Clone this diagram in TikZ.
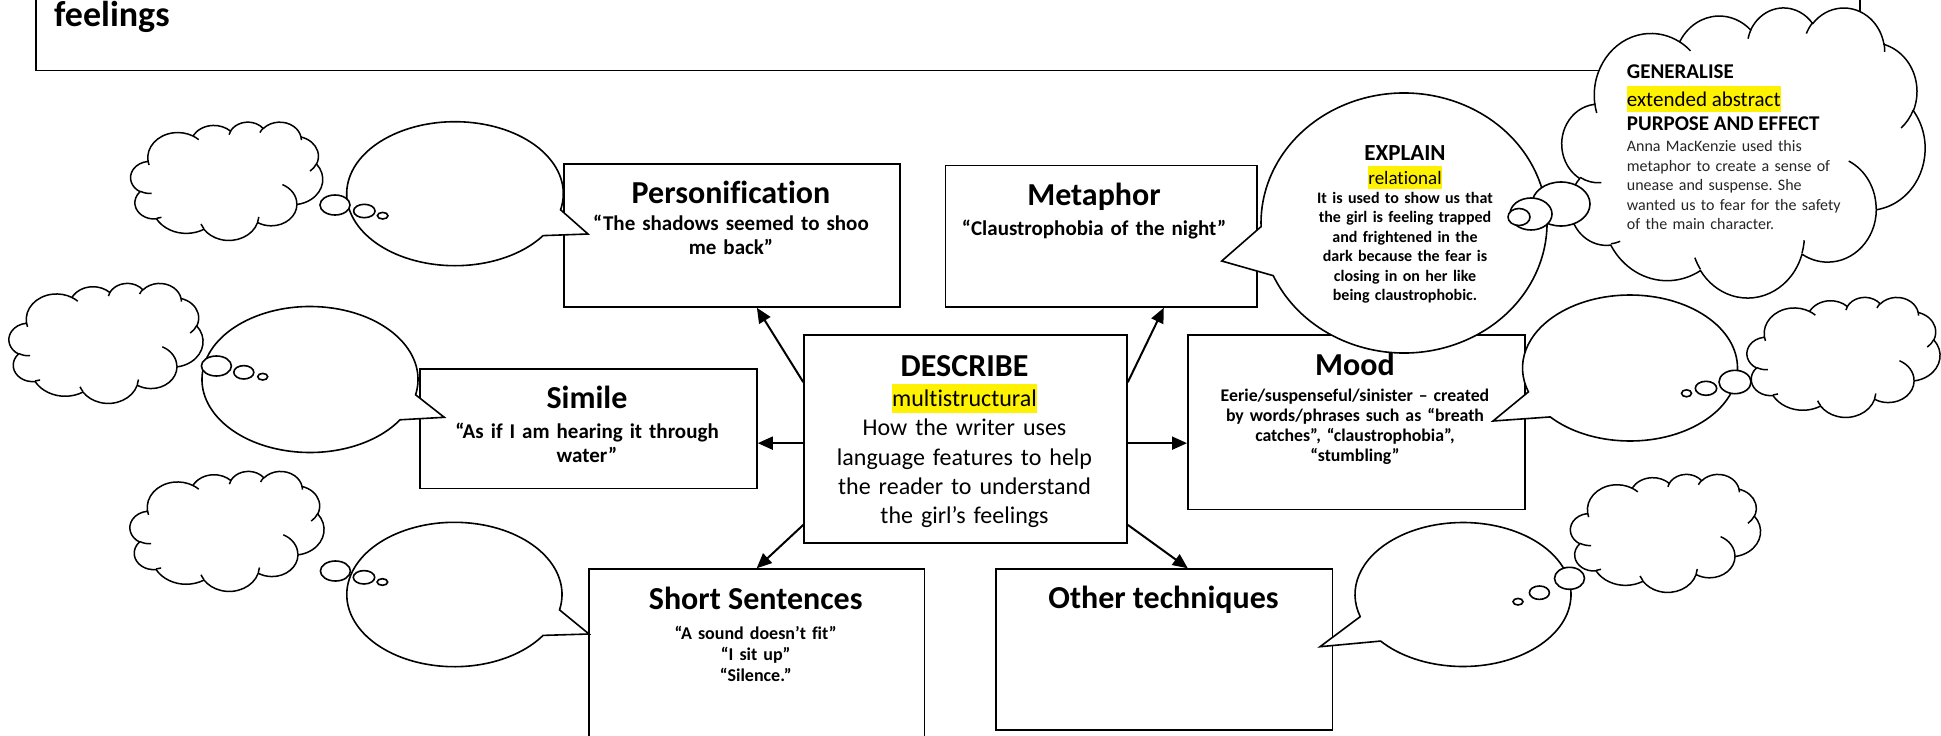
\documentclass[tikz,border=0pt]{standalone}
\usepackage{fontspec}
\setmainfont{Carlito}[Ligatures={NoCommon}]
\usetikzlibrary{arrows.meta,calc}
\frenchspacing
\newcommand\hlbox[1]{{\setlength{\fboxsep}{0pt}\colorbox{yellow}{\rule[-0.27em]{0pt}{1.22em}#1}}}
% arc in the manner of an OOXML arcTo: wR, hR (path units/100), start and sweep (visual degrees, y down)
\newcommand\oa[4]{\pgfextra{%
  \pgfmathsetmacro\tha{#3}\pgfmathsetmacro\thb{#3+#4}%
  \pgfmathsetmacro\ta{atan2((#1)*sin(\tha),(#2)*cos(\tha))}%
  \pgfmathsetmacro\tb{atan2((#1)*sin(\thb),(#2)*cos(\thb))}%
  \pgfmathsetmacro\dtt{mod(\tb-\ta+720,360)}%
  \pgfmathsetmacro\sta{-(\ta)}\pgfmathsetmacro\dta{-(\dtt)}%
  \pgfmathsetmacro\rxx{(#1)*\csx}\pgfmathsetmacro\ryy{(#2)*\csy}}%
 arc[start angle=\sta, delta angle=\dta, x radius=\rxx pt, y radius=\ryy pt]}
\newcommand\cp[2]{({\cL+(#1)*\csx},{\cT-(#2)*\csy})}
% Word-like cloud: centre x, centre y, width, height
\newcommand\wcloud[4]{%
 \pgfmathsetmacro\csx{#3/432}\pgfmathsetmacro\csy{#4/432}%
 \pgfmathsetmacro\cL{#1-#3/2}\pgfmathsetmacro\cT{#2+#4/2}%
 \draw[cloudst] \cp{39}{143.7}
  \oa{67.53}{91.90}{-190.4875}{123.7805}
  \oa{53.33}{72.67}{-144.1024}{89.9452}
  \oa{43.65}{59.45}{-145.8079}{99.7230}
  \oa{48.57}{65.95}{-130.9861}{117.2417}
  \oa{53.33}{72.73}{-78.7089}{109.0269}
  \oa{67.75}{92.20}{-46.2673}{130.2690}
  \oa{57.85}{78.67}{0.6250}{114.0333}
  \oa{67.52}{92.15}{22.4516}{115.1726}
  \oa{77.20}{105.43}{66.2426}{75.7110}
  \oa{43.60}{59.18}{-274.9421}{146.7356}
  \oa{43.45}{59.45}{-246.8285}{152.5189} -- cycle;
 \draw[creasest] \cp{46.93}{261.77} \oa{43.45}{59.45}{86.7420}{26.4295}
  \cp{69.28}{348.99} \oa{43.60}{59.18}{73.6105}{11.4475}
  \cp{164.78}{390.90} \oa{67.52}{92.15}{137.6242}{14.0811}
  \cp{288.27}{347.51} \oa{67.52}{92.15}{6.4533}{15.9984}
  \cp{341.29}{229.54} \oa{57.85}{78.67}{-70.2924}{70.9174}
  \cp{417.98}{153.54} \oa{53.33}{72.73}{30.3180}{27.7515}
  \cp{383.24}{54.26} \oa{48.57}{65.95}{-13.7443}{14.8589}
  \cp{290.78}{39.52} \oa{48.57}{65.95}{-149.1815}{18.1954}
  \cp{221.41}{47.20} \oa{43.65}{59.45}{-163.4943}{17.6864}
  \cp{140.00}{51.92} \oa{67.53}{91.90}{-66.7070}{12.3194}
  \cp{41.27}{157.89} \oa{67.53}{91.90}{157.6544}{11.8582};
}
\begin{document}
\begin{tikzpicture}[x=1pt,y=1pt,
 boxst/.style={draw, line width=1.8pt, fill=white, inner sep=0pt, anchor=north west},
 ttl/.style={font=\bfseries\fontsize{32}{38}\selectfont, anchor=base, inner sep=0pt},
 sub/.style={font=\bfseries\fontsize{21}{24.5}\selectfont, anchor=base, inner sep=0pt, align=center, text width=330pt},
 moodsub/.style={font=\bfseries\fontsize{17.8}{20}\selectfont, anchor=base, inner sep=0pt, align=center, text width=330pt},
 shortsub/.style={font=\bfseries\fontsize{18}{21}\selectfont, anchor=base, inner sep=0pt, align=center, text width=330pt},
 bub/.style={draw, line width=1.6pt, fill=white},
 cloudst/.style={draw, line width=1.5pt, fill=white, line join=round},
 creasest/.style={draw, line width=1.5pt},
 arr/.style={line width=2pt, -{Triangle[length=15pt,width=13pt]}},
]
\useasboundingbox (0,0) rectangle (1941,-736);
\clip (0,0) rectangle (1941,-736);
\fill[white] (0,0) rectangle (1941,-736);

% title box
\node[boxst, minimum width=1824pt, minimum height=100pt] (titlebox) at (35,30.5) {};
\node[font=\bfseries\fontsize{36}{42}\selectfont, anchor=base west, inner sep=0pt] (feel) at (54,-27) {feelings};

% boxes
\node[boxst, minimum width=336pt, minimum height=143pt] (pers) at (563,-163) {};
\node[boxst, minimum width=311.5pt, minimum height=141.4pt] (meta) at (944.5,-164.6) {};
\node[boxst, minimum width=337pt, minimum height=119.5pt] (sim) at (419,-368) {};
\node[boxst, minimum width=322.7pt, minimum height=207.7pt] (desc) at (803.3,-334) {};
\node[boxst, minimum width=337pt, minimum height=174.5pt] (mood) at (1187,-334) {};
\node[boxst, minimum width=335.5pt, minimum height=200pt] (short) at (588,-568.3) {};
\node[boxst, minimum width=336.5pt, minimum height=160.7pt] (other) at (995,-568.3) {};

% box texts
\node[ttl] (perst) at (731,-203) {Personification};
\node[sub] (perss) at (731,-230) {“The shadows seemed to shoo\\me back”};
\node[ttl] (metat) at (1094,-205.5) {Metaphor};
\node[sub] (metas) at (1094,-235) {“Claustrophobia of the night”};
\node[ttl] (simt) at (587,-408.5) {Simile};
\node[sub] (sims) at (587,-438) {“As if I am hearing it through\\water”};
\node[ttl] (moodt) at (1355,-375) {Mood};
\node[moodsub] (moods) at (1355,-401.7) {Eerie/suspenseful/sinister – created\\by words/phrases such as “breath\\catches”, “claustrophobia”,\\“stumbling”};
\node[ttl] (shortt) at (755.7,-609.3) {Short Sentences};
\node[shortsub] (shorts) at (755.7,-639) {“A sound doesn’t fit”\\“I sit up”\\“Silence.”};
\node[ttl] (othert) at (1163.5,-608.5) {Other techniques};
\node[ttl] (desct) at (964.5,-376) {DESCRIBE};
\node[font=\fontsize{24}{29.3}\selectfont, anchor=base, inner sep=0pt] (deschl) at (964.5,-406.7) {\hlbox{multistructural}};
\node[font=\fontsize{24}{29.3}\selectfont, anchor=base, inner sep=0pt, align=center, text width=320pt] (descb) at (964.5,-435.7) {How the writer uses\\language features to help\\the reader to understand\\the girl’s feelings};

% arrows
\coordinate (dw) at ($(desc.north west)!0.521!(desc.south west)$);
\coordinate (de) at ($(desc.north east)!0.521!(desc.south east)$);
\draw[arr] ($(desc.north west)!0.23!(desc.south west)$) -- ($(pers.south west)!0.574!(pers.south east)$);
\draw[arr] ($(desc.north east)!0.23!(desc.south east)$) -- ($(meta.south west)!0.70!(meta.south east)$);
\draw[arr] (dw) -- (dw -| sim.east);
\draw[arr] (de) -- (de -| mood.west);
\draw[arr] ($(desc.north west)!0.911!(desc.south west)$) -- ($(short.north west)!0.5!(short.north east)$);
\draw[arr] ($(desc.north east)!0.911!(desc.south east)$) -- ($(other.north west)!0.57!(other.north east)$);

% speech bubbles
\draw[bub] (455,-193.7) ++(-12.9:108.3pt and 72pt) arc[start angle=-12.9, end angle=324.4, x radius=108.3pt, y radius=72pt] -- (588,-234) -- cycle;
\draw[bub] (310,-379.5) ++(-12.1:108pt and 73pt) arc[start angle=-12.1, end angle=326.5, x radius=108pt, y radius=73pt] -- (444.3,-417.3) -- cycle;
\draw[bub] (454.4,-594.5) ++(-12.3:107.6pt and 72.2pt) arc[start angle=-12.3, end angle=325.5, x radius=107.6pt, y radius=72.2pt] -- (589,-634) -- cycle;
\draw[bub] (1630,-368) ++(222.1:107.5pt and 73pt) arc[start angle=222.1, end angle=559.1, x radius=107.5pt, y radius=73pt] -- (1493,-421) -- cycle;
\draw[bub] (1463,-594.5) ++(220.3:108pt and 72pt) arc[start angle=220.3, end angle=557.9, x radius=108pt, y radius=72pt] -- (1320,-646.7) -- cycle;

% clouds
\wcloud{226.7}{-180.9}{192}{118.3}
\wcloud{106}{-343}{194}{120}
\wcloud{227}{-531}{194}{120}
\wcloud{1843.5}{-357}{193}{120}
\wcloud{1665.5}{-533}{190}{118}

% thought circles
\draw[bub] (335,-205) ellipse [x radius=15pt, y radius=10pt];
\draw[bub] (364.3,-211) ellipse [x radius=10.7pt, y radius=6.7pt];
\draw[bub] (382.7,-215.7) ellipse [x radius=5.3pt, y radius=3.3pt];
\draw[bub] (216.4,-366) ellipse [x radius=15pt, y radius=10pt];
\draw[bub] (243.8,-372.3) ellipse [x radius=10pt, y radius=6.7pt];
\draw[bub] (262.7,-376.7) ellipse [x radius=5pt, y radius=3.3pt];
\draw[bub] (335.4,-571) ellipse [x radius=15pt, y radius=10pt];
\draw[bub] (364,-577.3) ellipse [x radius=10.7pt, y radius=6.7pt];
\draw[bub] (382.4,-582) ellipse [x radius=5.3pt, y radius=3.3pt];
\draw[bub] (1735,-382) ellipse [x radius=16pt, y radius=11.7pt];
\draw[bub] (1706,-388.3) ellipse [x radius=10.7pt, y radius=7pt];
\draw[bub] (1686.5,-393.3) ellipse [x radius=5pt, y radius=3.5pt];
\draw[bub] (1569.5,-578.3) ellipse [x radius=15pt, y radius=11pt];
\draw[bub] (1539.4,-592.7) ellipse [x radius=10pt, y radius=6.7pt];
\draw[bub] (1518,-601.7) ellipse [x radius=5pt, y radius=3.3pt];

% explain bubble
\draw[bub] (1404,-223) ++(203.9:143pt and 130pt) arc[start angle=203.9, end angle=541.6, x radius=143pt, y radius=130pt] -- (1221.7,-261) -- cycle;
\node[font=\bfseries\fontsize{23}{28}\selectfont, anchor=base, inner sep=0pt] (expt) at (1405,-160) {EXPLAIN};
\node[font=\fontsize{19}{23}\selectfont, anchor=base, inner sep=0pt] (exphl) at (1405,-184) {\hlbox{relational}};
\node[font=\bfseries\fontsize{16}{19.5}\selectfont, anchor=base, inner sep=0pt, align=center, text width=240pt] (expb) at (1405,-203.3) {It is used to show us that\\the girl is feeling trapped\\and frightened in the\\dark because the fear is\\closing in on her like\\being claustrophobic.};

% generalise cloud
\wcloud{1743.5}{-152}{363}{290}
\node[font=\bfseries\fontsize{21}{25}\selectfont, anchor=base west, inner sep=0pt] (gent) at (1626.7,-78.3) {GENERALISE};
\node[font=\fontsize{21}{25}\selectfont, anchor=base west, inner sep=0pt] (genhl) at (1626.7,-106) {\hlbox{extended abstract}};
\node[font=\bfseries\fontsize{21}{25}\selectfont, anchor=base west, inner sep=0pt] (genp) at (1626.7,-130.7) {PURPOSE AND EFFECT};
\node[font=\fontsize{16}{19.5}\selectfont, anchor=base west, inner sep=0pt, align=left, text width=260pt, text=black!85] (genb) at (1626.7,-151.7) {Anna MacKenzie used this\\metaphor to create a sense of\\unease and suspense. She\\wanted us to fear for the safety\\of the main character.};

% circles between explain and generalise
\draw[bub] (1561,-204) ellipse [x radius=29pt, y radius=22pt];
\draw[bub] (1531,-214) ellipse [x radius=21pt, y radius=16pt];
\draw[bub] (1519,-217) ellipse [x radius=11pt, y radius=8.5pt];
\end{tikzpicture}
\end{document}
